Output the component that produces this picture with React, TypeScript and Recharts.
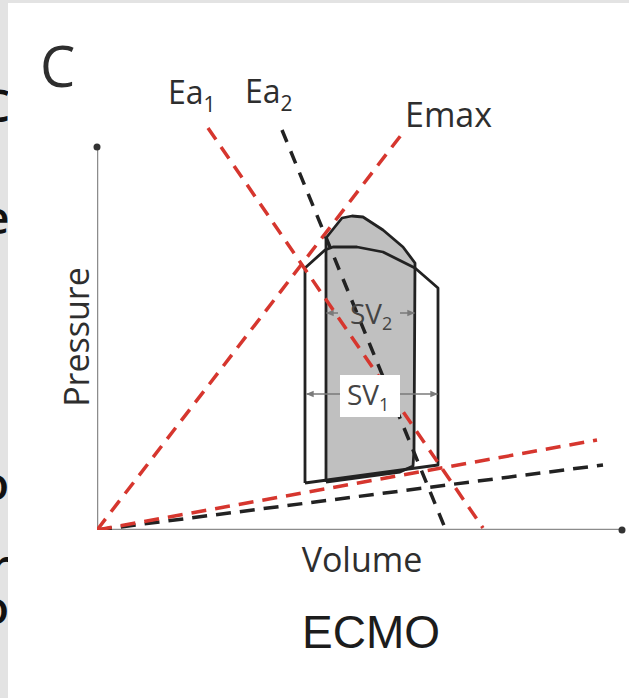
import { ScatterChart, Scatter, XAxis, YAxis, ReferenceDot } from "recharts";

// volume / pressure in arbitrary units (both axes share the same scale)
const xAxisLine = [
  { x: 0, y: 0 },
  { x: 105, y: 0 },
];
const yAxisLine = [
  { x: 0, y: 0 },
  { x: 0, y: 76.6 },
];

// baseline loop (wider, white)
const loop1 = [
  { x: 41.6, y: 9.4 },
  { x: 41.6, y: 52.4 },
  { x: 45.6, y: 56 },
  { x: 47.2, y: 56.6 },
  { x: 52, y: 56.6 },
  { x: 57.2, y: 55.6 },
  { x: 63.6, y: 52.4 },
  { x: 68.2, y: 48.4 },
  { x: 68.2, y: 13 },
  { x: 41.6, y: 9.4 },
];

// ECMO loop (narrower, higher, shaded)
const loop2 = [
  { x: 45.8, y: 9.6 },
  { x: 45.8, y: 58.4 },
  { x: 49, y: 62.4 },
  { x: 51, y: 62.8 },
  { x: 53.2, y: 62.6 },
  { x: 57.2, y: 60 },
  { x: 61.2, y: 56.6 },
  { x: 63.6, y: 53.4 },
  { x: 63.4, y: 16 },
  { x: 63.2, y: 12.8 },
  { x: 60.6, y: 11.6 },
  { x: 45.8, y: 9.6 },
];

const emax = [
  { x: 0, y: 0 },
  { x: 61.6, y: 80 },
];
const ea1 = [
  { x: 22.2, y: 80.4 },
  { x: 77.2, y: 0.4 },
];
const ea2 = [
  { x: 37, y: 80 },
  { x: 69.6, y: 0.4 },
];
const edpvrRed = [
  { x: 0, y: 0 },
  { x: 100, y: 18 },
];
const edpvrBlack = [
  { x: 0, y: 0 },
  { x: 101.2, y: 13 },
];

const sv2Left = [
  { x: 48.2, y: 43.4 },
  { x: 45.9, y: 43.4 },
];
const sv2Right = [
  { x: 60.6, y: 43.4 },
  { x: 63.5, y: 43.4 },
];
const sv1 = [
  { x: 41.9, y: 27.2 },
  { x: 68.1, y: 27.2 },
];

const RED = "#d6362e";
const BLACK = "#222";
const LABEL = "#2e2e2e";

const NoDot = () => <g />;

export default function App() {
  const font = "'Open Sans', sans-serif";
  return (
    <div
      style={{
        position: "absolute",
        left: 0,
        top: 0,
        width: 629,
        height: 698,
        background: "#fff",
        overflow: "hidden",
      }}
    >
      <svg width={0} height={0} style={{ position: "absolute" }}>
        <defs>
          <marker
            id="arr"
            viewBox="0 0 10 10"
            refX="9"
            refY="5"
            markerUnits="userSpaceOnUse"
            markerWidth="8"
            markerHeight="8"
            orient="auto-start-reverse"
          >
            <path d="M0,1 L10,5 L0,9 z" fill="#7a7a7a" />
          </marker>
        </defs>
      </svg>

      <ScatterChart
        width={629}
        height={698}
        margin={{ top: 100, right: 7, bottom: 168, left: 97 }}
      >
        <XAxis hide type="number" dataKey="x" domain={[0, 105]} allowDataOverflow />
        <YAxis hide type="number" dataKey="y" domain={[0, 86]} allowDataOverflow />

        <Scatter data={xAxisLine} shape={<NoDot />} line={{ stroke: "#8c8c8c", strokeWidth: 2.5 }} isAnimationActive={false} />
        <Scatter data={yAxisLine} shape={<NoDot />} line={{ stroke: "#8c8c8c", strokeWidth: 2.5 }} isAnimationActive={false} />
        <ReferenceDot x={105} y={0} r={3.5} fill="#333" stroke="none" ifOverflow="visible" />
        <ReferenceDot x={0} y={76.6} r={3.5} fill="#333" stroke="none" ifOverflow="visible" />

        {/* shaded ECMO loop, then both outlines */}
        <Scatter data={loop2} shape={<NoDot />} line={{ stroke: "none", fill: "#c0c0c0" }} isAnimationActive={false} />
        <Scatter data={loop1} shape={<NoDot />} line={{ stroke: BLACK, strokeWidth: 2.8, fill: "none", strokeLinejoin: "round" }} isAnimationActive={false} />
        <Scatter data={loop2} shape={<NoDot />} line={{ stroke: BLACK, strokeWidth: 2.8, fill: "none", strokeLinejoin: "round" }} isAnimationActive={false} />

        {/* stroke volume arrows */}
        <Scatter data={sv2Left} shape={<NoDot />} line={{ stroke: "#7a7a7a", strokeWidth: 1.5, markerEnd: "url(#arr)" }} isAnimationActive={false} />
        <Scatter data={sv2Right} shape={<NoDot />} line={{ stroke: "#7a7a7a", strokeWidth: 1.5, markerEnd: "url(#arr)" }} isAnimationActive={false} />
        <Scatter data={sv1} shape={<NoDot />} line={{ stroke: "#7a7a7a", strokeWidth: 1.5, markerStart: "url(#arr)", markerEnd: "url(#arr)" }} isAnimationActive={false} />

        {/* elastance lines */}
        <Scatter data={edpvrBlack} shape={<NoDot />} line={{ stroke: BLACK, strokeWidth: 3.5, strokeDasharray: "15 9" }} isAnimationActive={false} />
        <Scatter data={edpvrRed} shape={<NoDot />} line={{ stroke: RED, strokeWidth: 3.5, strokeDasharray: "15 9" }} isAnimationActive={false} />
        <Scatter data={emax} shape={<NoDot />} line={{ stroke: RED, strokeWidth: 3.5, strokeDasharray: "14 9" }} isAnimationActive={false} />
        <Scatter data={ea2} shape={<NoDot />} line={{ stroke: BLACK, strokeWidth: 3.5, strokeDasharray: "13 10" }} isAnimationActive={false} />
        <Scatter data={ea1} shape={<NoDot />} line={{ stroke: RED, strokeWidth: 3.5, strokeDasharray: "14 9" }} isAnimationActive={false} />
      </ScatterChart>

      <svg
        width={629}
        height={698}
        style={{ position: "absolute", left: 0, top: 0, pointerEvents: "none" }}
        fontFamily={font}
      >
        {/* edge of the neighbouring panel */}
        <defs>
          <clipPath id="edge">
            <rect x={0} y={0} width={8} height={698} />
          </clipPath>
        </defs>
        <rect x={0} y={0} width={629} height={3} fill="#e3e3e3" />
        <g clipPath="url(#edge)">
          <rect x={0} y={0} width={8} height={698} fill="#e3e3e3" />
          <g fill="#111" fontSize={46} fontWeight={600}>
            <text x={-19} y={122}>C</text>
            <text x={-17} y={234}>e</text>
            <text x={-19} y={500}>o</text>
            <text x={-10} y={582}>r</text>
            <text x={-19} y={624}>o</text>
          </g>
        </g>

        <text x={40} y={87} fontSize={56} fill={LABEL}>C</text>

        <text x={168} y={104} fontSize={32} fill={LABEL}>
          Ea<tspan fontSize={21} dy={8}>1</tspan>
        </text>
        <text x={245} y={103} fontSize={32} fill={LABEL}>
          Ea<tspan fontSize={21} dy={8}>2</tspan>
        </text>
        <text x={405} y={127} fontSize={34} fill={LABEL}>Emax</text>

        <text
          x={0}
          y={0}
          fontSize={34}
          fill={LABEL}
          textAnchor="middle"
          transform="translate(89 337) rotate(-90)"
        >
          Pressure
        </text>
        <text x={362} y={572} fontSize={34} fill={LABEL} textAnchor="middle">Volume</text>
        <text
          x={371}
          y={648}
          fontSize={46}
          fill="#1c1c1c"
          textAnchor="middle"
          fontFamily="'Liberation Sans', Arial, sans-serif"
        >
          ECMO
        </text>

        <text x={350} y={324} fontSize={28} fill="#444">
          SV<tspan fontSize={18} dy={6}>2</tspan>
        </text>
        <rect x={340} y={375} width={60} height={42} fill="#fff" />
        <text x={347} y={405} fontSize={28} fill="#444">
          SV<tspan fontSize={18} dy={6}>1</tspan>
        </text>
      </svg>
    </div>
  );
}
